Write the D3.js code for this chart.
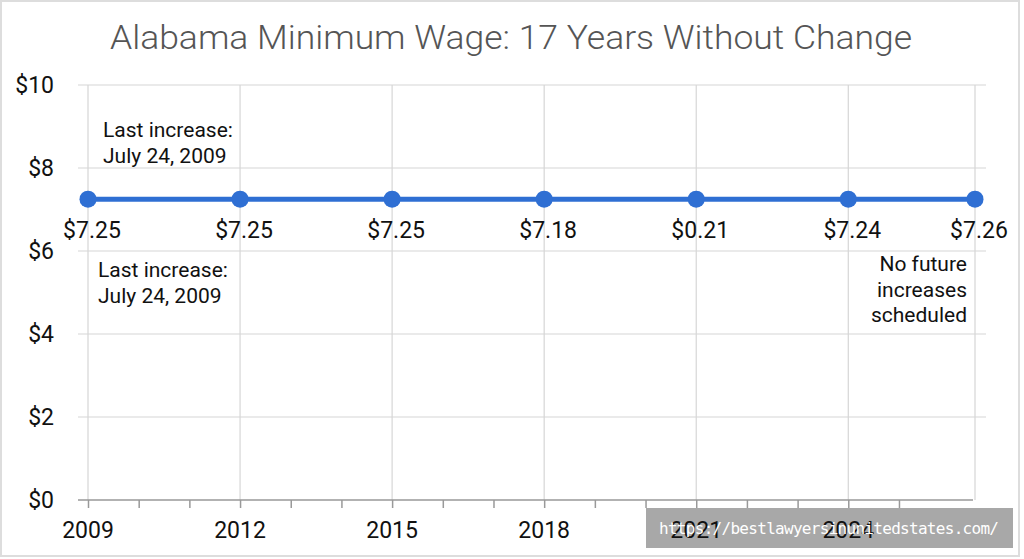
<!DOCTYPE html>
<html>
<head>
<meta charset="utf-8">
<script src="https://cdn.jsdelivr.net/npm/d3@7"></script>
<style>
  body { margin: 0; background: #fff; }
  svg { display: block; }
</style>
</head>
<body>
<svg width="1024" height="559"></svg>
<script>
// data
var years = [2009, 2012, 2015, 2018, 2021, 2024, 2026.5];
var wages = [7.25, 7.25, 7.25, 7.25, 7.25, 7.25, 7.25];
var pointLabels = ["$7.25", "$7.25", "$7.25", "$7.18", "$0.21", "$7.24", "$7.26"];
var yTicks = [0, 2, 4, 6, 8, 10];
var xMajor = [2009, 2012, 2015, 2018, 2021, 2024];
var xMinor = d3.range(2009, 2026);

var svg = d3.select("svg"),
    width = +svg.attr("width"),
    height = +svg.attr("height");

var x = d3.scaleLinear().domain([2009, 2026.5]).range([88, 975]);
var y = d3.scaleLinear().domain([0, 10]).range([500, 85]);

var font = "'Liberation Sans Narrow', 'Roboto', sans-serif";

// frame
svg.append("rect")
    .attr("x", 1).attr("y", 1)
    .attr("width", width - 6).attr("height", height - 4)
    .attr("fill", "none")
    .attr("stroke", "#ddd")
    .attr("stroke-width", 2);

// title
svg.append("text")
    .attr("x", 511).attr("y", 49)
    .attr("text-anchor", "middle")
    .attr("font-family", "Roboto, sans-serif")
    .attr("font-weight", 300)
    .attr("font-size", 34)
    .attr("fill", "#555")
    .attr("textLength", 802)
    .attr("lengthAdjust", "spacingAndGlyphs")
    .text("Alabama Minimum Wage: 17 Years Without Change");

// horizontal grid
svg.append("g")
    .selectAll("line")
    .data(yTicks.filter(function(d) { return d > 0; }))
    .enter().append("line")
    .attr("x1", 78).attr("x2", 986)
    .attr("y1", function(d) { return y(d); })
    .attr("y2", function(d) { return y(d); })
    .attr("stroke", "#d6d6d6")
    .attr("stroke-width", 1.2);

// vertical grid
svg.append("g")
    .selectAll("line")
    .data(xMajor.concat([2026.5]))
    .enter().append("line")
    .attr("x1", function(d) { return x(d); })
    .attr("x2", function(d) { return x(d); })
    .attr("y1", y(10)).attr("y2", y(0))
    .attr("stroke", "#d6d6d6")
    .attr("stroke-width", 1.2);

// x axis
var xAxis = svg.append("g")
    .attr("transform", "translate(0," + y(0) + ")")
    .call(d3.axisBottom(x).tickValues(xMinor).tickSize(8).tickFormat(""));
xAxis.select(".domain").attr("d", "M78,0H973").attr("stroke", "#999").attr("stroke-width", 1.5);
xAxis.selectAll(".tick line").attr("stroke", "#999").attr("stroke-width", 1.5);

// watermark box sits under the year labels
svg.append("rect")
    .attr("x", 646).attr("y", 508)
    .attr("width", 367).attr("height", 40)
    .attr("fill", "#a8a8a8");

svg.append("g")
    .selectAll("text")
    .data(xMajor)
    .enter().append("text")
    .attr("x", function(d) { return x(d); })
    .attr("y", 538)
    .attr("text-anchor", "middle")
    .attr("font-family", font)
    .attr("font-size", 23)
    .attr("fill", "#111")
    .text(function(d) { return d; });

// y labels
svg.append("g")
    .selectAll("text")
    .data(yTicks)
    .enter().append("text")
    .attr("x", 54)
    .attr("y", function(d) { return y(d) + 8; })
    .attr("text-anchor", "end")
    .attr("font-family", font)
    .attr("font-size", 23)
    .attr("fill", "#111")
    .text(function(d) { return "$" + d; });

// line + points
var pts = years.map(function(d, i) { return [d, wages[i]]; });
svg.append("path")
    .datum(pts)
    .attr("d", d3.line().x(function(d) { return x(d[0]); }).y(function(d) { return y(d[1]); }))
    .attr("fill", "none")
    .attr("stroke", "#2f6fd3")
    .attr("stroke-width", 5);

svg.append("g")
    .selectAll("circle")
    .data(pts)
    .enter().append("circle")
    .attr("cx", function(d) { return x(d[0]); })
    .attr("cy", function(d) { return y(d[1]); })
    .attr("r", 8.5)
    .attr("fill", "#2f6fd3");

svg.append("g")
    .selectAll("text")
    .data(pts)
    .enter().append("text")
    .attr("x", function(d) { return x(d[0]) + 4; })
    .attr("y", function(d) { return y(d[1]) + 39; })
    .attr("text-anchor", "middle")
    .attr("font-family", font)
    .attr("font-size", 23)
    .attr("fill", "#111")
    .text(function(d, i) { return pointLabels[i]; });

// annotations
function note(lines, xPos, yPos, anchor) {
    svg.append("text")
        .attr("font-family", font)
        .attr("font-size", 21)
        .attr("fill", "#111")
        .attr("text-anchor", anchor)
        .selectAll("tspan")
        .data(lines)
        .enter().append("tspan")
        .attr("x", xPos)
        .attr("y", function(d, i) { return yPos + i * 25.5; })
        .text(function(d) { return d; });
}
note(["Last increase:", "July 24, 2009"], 103, 137, "start");
note(["Last increase:", "July 24, 2009"], 98, 277, "start");
note(["No future", "increases", "scheduled"], 967, 271, "end");

// watermark url on top
svg.append("text")
    .attr("x", 829).attr("y", 534)
    .attr("text-anchor", "middle")
    .attr("font-family", "'DejaVu Sans Mono', monospace")
    .attr("font-size", 16)
    .attr("fill", "#fff")
    .attr("textLength", 340)
    .text("https://bestlawyersinunitedstates.com/");
</script>
</body>
</html>
